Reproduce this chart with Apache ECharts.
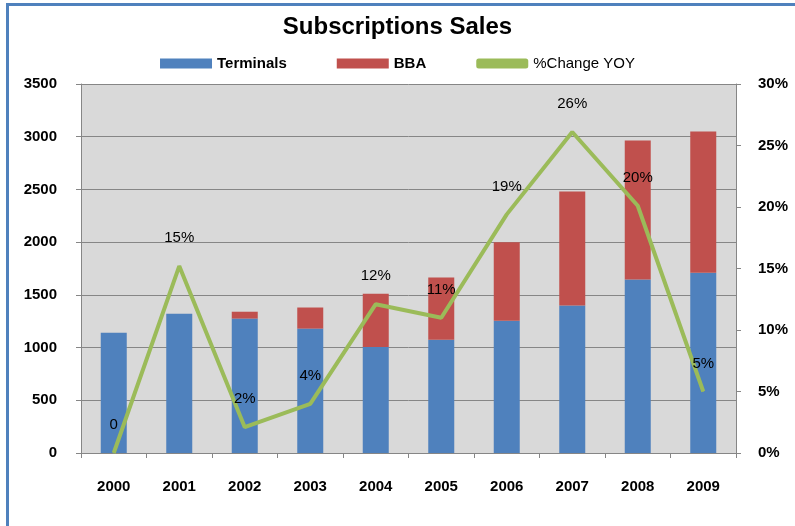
<!DOCTYPE html>
<html>
<head>
<meta charset="utf-8">
<script src="https://cdn.jsdelivr.net/npm/echarts@6/dist/echarts.min.js"></script>
<style>
  html, body { margin: 0; padding: 0; background: #fff; }
</style>
</head>
<body>
<div id="main" style="width: 795px;height:526px;"></div>
<script type="text/javascript">
    // data
    var years = ['2000', '2001', '2002', '2003', '2004', '2005', '2006', '2007', '2008', '2009'];
    var terminals = [1140, 1320, 1275, 1180, 1005, 1075, 1255, 1400, 1645, 1710];
    var bba = [0, 0, 65, 200, 505, 590, 745, 1080, 1320, 1340];
    var changeYoy = [0, 15.2, 2.1, 4.0, 12.1, 11.0, 19.4, 26.1, 20.1, 5.0];
    var changeLabels = ['0', '15%', '2%', '4%', '12%', '11%', '19%', '26%', '20%', '5%'];

    var myChart = echarts.init(document.getElementById('main'));

    var axisFont = { fontFamily: 'Liberation Sans', fontWeight: 'bold', fontSize: 15, color: '#000' };

    var option = {
        animation: false,
        backgroundColor: '#fff',
        title: {
            text: 'Subscriptions Sales',
            left: 'center',
            top: 10,
            textStyle: { fontFamily: 'Liberation Sans', fontWeight: 'bold', fontSize: 24, color: '#000' }
        },
        legend: {
            top: 51,
            left: 'center',
            itemWidth: 52,
            itemHeight: 10,
            itemGap: 50,
            textStyle: { fontFamily: 'Liberation Sans', fontSize: 15, color: '#000' },
            data: [
                { name: 'Terminals', icon: 'rect', textStyle: { fontWeight: 'bold' } },
                { name: 'BBA', icon: 'rect', textStyle: { fontWeight: 'bold' } },
                { name: '%Change YOY', icon: 'roundRect' }
            ]
        },
        graphic: [{
            type: 'rect',
            shape: { x: 7.5, y: 4.5, width: 900, height: 900 },
            style: { fill: 'none', stroke: '#4f81bd', lineWidth: 3 },
            silent: true
        }],
        grid: {
            left: 81, right: 59, top: 84, bottom: 73,
            show: true,
            backgroundColor: '#d9d9d9',
            borderWidth: 0
        },
        xAxis: {
            type: 'category',
            data: years,
            axisLine: { lineStyle: { color: '#868686', width: 1 } },
            axisTick: { show: true, alignWithLabel: false, length: 5, lineStyle: { color: '#868686' } },
            axisLabel: Object.assign({ margin: 26 }, axisFont)
        },
        yAxis: [{
            type: 'value',
            min: 0, max: 3500, interval: 500,
            axisLine: { show: true, lineStyle: { color: '#868686' } },
            axisTick: { show: true, length: 5, lineStyle: { color: '#868686' } },
            axisLabel: Object.assign({ margin: 24, formatter: function (v) { return String(v); } }, axisFont),
            splitLine: { lineStyle: { color: '#868686', width: 1 } }
        }, {
            type: 'value',
            min: 0, max: 30, interval: 5,
            position: 'right',
            axisLine: { show: true, lineStyle: { color: '#868686' } },
            axisTick: { show: true, length: 5, lineStyle: { color: '#868686' } },
            axisLabel: Object.assign({ margin: 22, formatter: '{value}%' }, axisFont),
            splitLine: { show: false }
        }],
        series: [{
            name: 'Terminals',
            type: 'bar',
            stack: 'sales',
            barWidth: 26,
            itemStyle: { color: '#4f81bd' },
            data: terminals
        }, {
            name: 'BBA',
            type: 'bar',
            stack: 'sales',
            barWidth: 26,
            itemStyle: { color: '#c0504d' },
            data: bba
        }, {
            name: '%Change YOY',
            type: 'line',
            yAxisIndex: 1,
            symbol: 'circle',
            symbolSize: 1,
            showSymbol: true,
            lineStyle: { color: '#9bbb59', width: 4 },
            itemStyle: { color: '#9bbb59' },
            label: {
                show: true,
                position: 'top',
                distance: 20,
                fontFamily: 'Liberation Sans',
                fontSize: 15,
                color: '#000',
                formatter: function (p) { return changeLabels[p.dataIndex]; }
            },
            labelLayout: { hideOverlap: false },
            data: changeYoy
        }]
    };

    myChart.setOption(option);
</script>
</body>
</html>
